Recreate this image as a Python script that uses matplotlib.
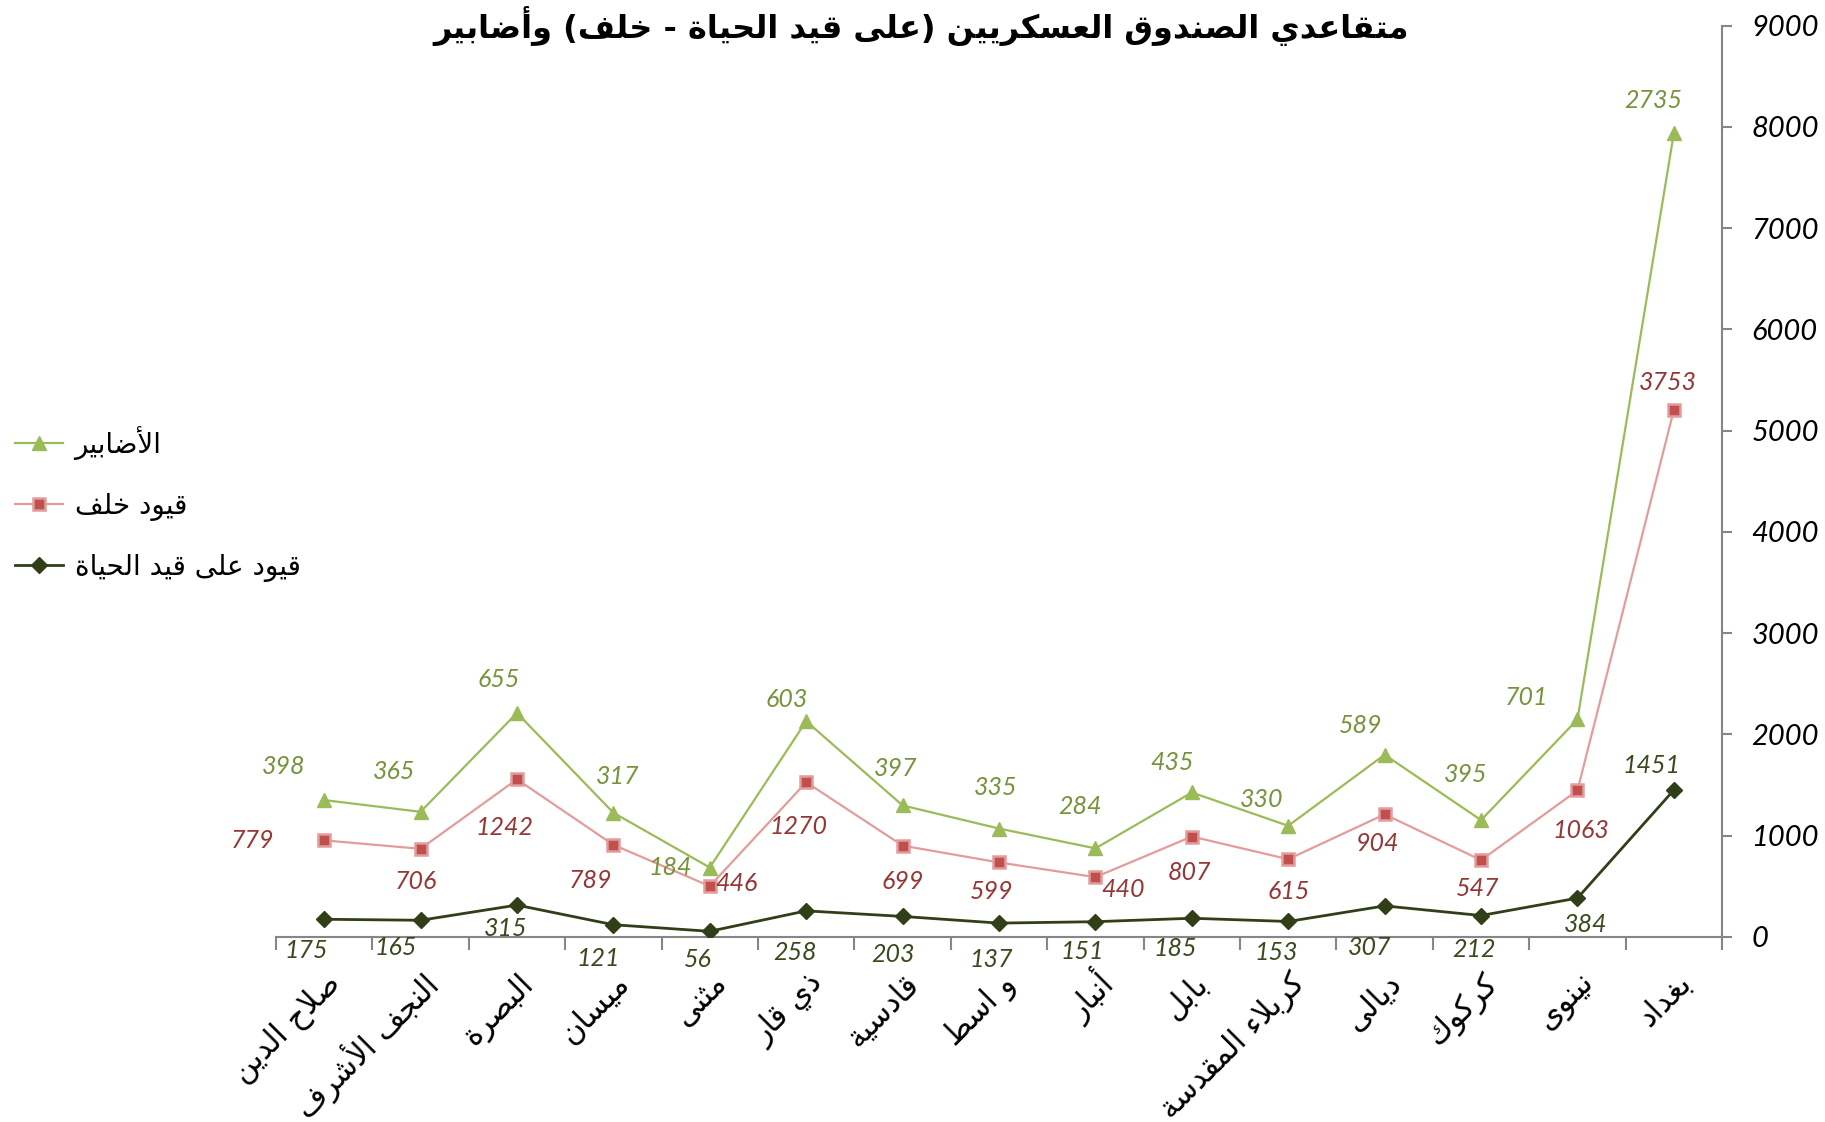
import numpy as np
import matplotlib
matplotlib.use("Agg")
import matplotlib.pyplot as plt
from matplotlib.lines import Line2D
from matplotlib.transforms import ScaledTranslation

# Datos (de izquierda a derecha)
provincias = ["صلاح الدين", "النجف الأشرف", "البصرة", "ميسان", "مثنى", "ذي قار", "قادسية",
              "و اسط", "أنبار", "بابل", "كربلاء المقدسة", "ديالى", "كركوك", "نينوى", "بغداد"]
vivos = [175, 165, 315, 121, 56, 258, 203, 137, 151, 185, 153, 307, 212, 384, 1451]
khalaf = [779, 706, 1242, 789, 446, 1270, 699, 599, 440, 807, 615, 904, 547, 1063, 3753]
adabir = [398, 365, 655, 317, 184, 603, 397, 335, 284, 435, 330, 589, 395, 701, 2735]
yticks = [0, 1000, 2000, 3000, 4000, 5000, 6000, 7000, 8000, 9000]

titulo = "متقاعدي الصندوق العسكريين (على قيد الحياة - خلف) وأضابير"
nombres = ["الأضابير", "قيود خلف", "قيود على قيد الحياة"]

# Desplazamiento de etiquetas (px en imagen reducida, y hacia abajo)
off_verde = [(-35, -29), (-23, -35), (-16, -29), (4, -31), (-34, 0), (-17, -19), (-6, -32), (-3, -35),
             (-13, -36), (-17, -26), (-23, -23), (-21, -25), (-13, -39), (-44, -19), (-18, -28)]
off_rojo = [(-62, 0), (-4, 28), (-11, 41), (-20, 31), (23, -2), (-7, 38), (0, 31), (-6, 25),
            (24, 11), (-2, 31), (0, 28), (-6, 25), (-3, 24), (3, 34), (-5, -24)]
off_oscuro = [(-15, 27), (-21, 23), (-10, 20), (-13, 29), (-10, 24), (-10, 36), (-8, 33), (-7, 31),
              (-11, 26), (-14, 26), (-10, 27), (-13, 36), (-6, 29), (7, 23), (-19, -21)]
S = 1825 / 1568

# Formas de presentación árabes (sin librerías externas)
AR_LETRAS = "ءآأؤإئابةتثجحخدذرزسشصضطظعغفقكلمنهوىي"
AR_NFORMAS = [1, 2, 2, 2, 2, 4, 2, 4, 2, 4, 4, 4, 4, 4, 2, 2, 2, 2, 4, 4, 4, 4, 4, 4, 4, 4,
              4, 4, 4, 4, 4, 4, 4, 2, 2, 4]
FORMAS = {}
cod = 0xFE80
for ch, nf in zip(AR_LETRAS, AR_NFORMAS):
    FORMAS[ch] = (cod, nf)
    cod += nf
LAM_ALEF = {'آ': 0xFEF5, 'أ': 0xFEF7, 'إ': 0xFEF9, 'ا': 0xFEFB}


def arabe(texto):
    out = []
    i = 0
    n = len(texto)
    while i < n:
        ch = texto[i]
        if ch not in FORMAS:
            out.append(ch)
            i += 1
            continue
        prev = texto[i - 1] if i > 0 else ''
        une_prev = prev in FORMAS and FORMAS[prev][1] == 4
        if ch == 'ل' and i + 1 < n and texto[i + 1] in LAM_ALEF:
            out.append(chr(LAM_ALEF[texto[i + 1]] + (1 if une_prev else 0)))
            i += 2
            continue
        base, nf = FORMAS[ch]
        sig = texto[i + 1] if i + 1 < n else ''
        une_sig = nf == 4 and sig in FORMAS and FORMAS[sig][1] > 1
        if nf == 1:
            f = 0
        elif une_prev and une_sig:
            f = 3
        elif une_prev:
            f = 1
        elif une_sig:
            f = 2
        else:
            f = 0
        out.append(chr(base + f))
        i += 1
    espejo = {'(': ')', ')': '('}
    return ''.join(espejo.get(c, c) for c in reversed(out))


plt.rcParams['font.family'] = ['DejaVu Sans']
NUM_FONT = dict(family='Lato', style='italic')

x = np.arange(len(provincias))
nivel1 = np.array(vivos)
nivel2 = nivel1 + np.array(khalaf)
nivel3 = nivel2 + np.array(adabir)

fig = plt.figure(figsize=(18.25, 11.22), dpi=100)
ax = fig.add_axes([0.1512, 0.1649, 0.9436 - 0.1512, 0.9772 - 0.1649])

c_verde, c_verde_t = '#9BBB59', '#77933C'
c_rojo, c_rojo_l, c_rojo_t = '#C0504D', '#E39C9B', '#953735'
c_osc, c_osc_t = '#303F18', '#3B4A1E'

ax.plot(x, nivel3, color=c_verde, lw=1.6, marker='^', ms=10, mfc=c_verde, mec=c_verde, zorder=3)
ax.plot(x, nivel2, color=c_rojo_l, lw=1.6, marker='s', ms=9, mfc=c_rojo, mec=c_rojo_l, mew=1.8, zorder=3)
ax.plot(x, nivel1, color=c_osc, lw=2.0, marker='D', ms=8, mfc=c_osc, mec=c_osc, zorder=3)

for serie, vals, offs, col in [(nivel3, adabir, off_verde, c_verde_t),
                               (nivel2, khalaf, off_rojo, c_rojo_t),
                               (nivel1, vivos, off_oscuro, c_osc_t)]:
    for xi, yi, v, (dx, dy) in zip(x, serie, vals, offs):
        ax.annotate(str(v), (xi, yi), xytext=(dx * S, -dy * S), textcoords='offset pixels',
                    ha='center', va='center', color=col, fontsize=18, **NUM_FONT)

ax.set_xlim(-0.5, len(provincias) - 0.5)
ax.set_ylim(0, 9000)

gris = '#868686'
for s in ['top', 'left']:
    ax.spines[s].set_visible(False)
for s in ['right', 'bottom']:
    ax.spines[s].set_color(gris)
    ax.spines[s].set_linewidth(1.5)

ax.yaxis.tick_right()
ax.set_yticks(yticks)
ax.set_yticklabels([str(t) for t in yticks], **NUM_FONT, fontsize=21)
ax.tick_params(axis='y', length=7, width=1.5, color=gris, pad=14)

ax.set_xticks(x)
ax.set_xticks(np.arange(-0.5, len(provincias)), minor=True)
ax.tick_params(axis='x', which='major', length=0, pad=30)
ax.tick_params(axis='x', which='minor', length=9, width=1.5, color=gris, direction='out')
ax.set_xticklabels([arabe(p) for p in provincias], rotation=45, ha='right', va='center',
                   rotation_mode='anchor', fontsize=22)
desp = ScaledTranslation(12 / 100, 0, fig.dpi_scale_trans)
for lab in ax.get_xticklabels():
    lab.set_transform(lab.get_transform() + desp)

fig.text(0.505, 0.977, arabe(titulo), ha='center', va='center', fontsize=23, fontweight='bold')

handles = [Line2D([], [], color=c_verde, lw=1.6, marker='^', ms=10, mfc=c_verde, mec=c_verde),
           Line2D([], [], color=c_rojo_l, lw=1.6, marker='s', ms=9, mfc=c_rojo, mec=c_rojo_l, mew=1.8),
           Line2D([], [], color=c_osc, lw=2.0, marker='D', ms=8, mfc=c_osc, mec=c_osc)]
fig.legend(handles, [arabe(n) for n in nombres], loc='upper left', bbox_to_anchor=(0.0005, 0.633),
           frameon=False, fontsize=20, handlelength=1.75, handletextpad=0.4, labelspacing=1.15,
           borderpad=0)

fig.savefig('out.png', dpi=100)
